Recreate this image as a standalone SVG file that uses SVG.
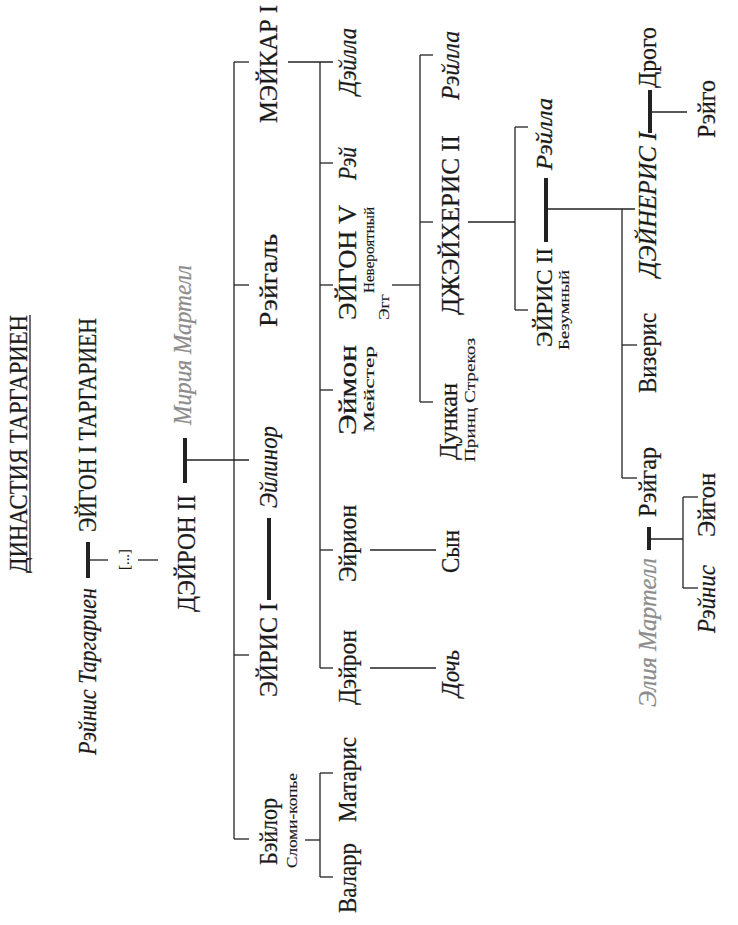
<svg xmlns="http://www.w3.org/2000/svg" width="738" height="925" viewBox="0 0 738 925">
<style>
text{font-family:"Liberation Serif","Times New Roman",serif;fill:#1a1a1a;stroke:#1a1a1a;stroke-width:0.25}
.n{font-size:25px}
.m{font-size:23px}
.s{font-size:15px;stroke-width:0.15}
.i{font-style:italic}
.g{fill:#8c8c8c;stroke:#8c8c8c}
.ln{stroke:#222;stroke-width:1.3;fill:none}
.bar{stroke:#222;stroke-width:4;fill:none}
</style>
<rect width="738" height="925" fill="#fff"/>
<g id="connectors">
<line class="bar" x1="88" y1="542" x2="88" y2="578"/>
<line class="ln" x1="88" y1="560" x2="108" y2="560"/>
<line class="ln" x1="138" y1="560" x2="158" y2="560"/>
<line class="bar" x1="185" y1="438" x2="185" y2="483"/>
<line class="ln" x1="185" y1="460" x2="249" y2="460"/>
<line class="ln" x1="234" y1="62" x2="234" y2="839"/>
<line class="ln" x1="234" y1="62" x2="249" y2="62"/>
<line class="ln" x1="234" y1="285" x2="249" y2="285"/>
<line class="ln" x1="234" y1="655" x2="249" y2="655"/>
<line class="ln" x1="234" y1="839" x2="249" y2="839"/>
<line class="bar" x1="269" y1="518" x2="269" y2="600"/>
<line class="ln" x1="288" y1="62" x2="333" y2="62"/>
<line class="ln" x1="320" y1="62" x2="320" y2="668"/>
<line class="ln" x1="320" y1="163" x2="333" y2="163"/>
<line class="ln" x1="320" y1="285" x2="333" y2="285"/>
<line class="ln" x1="320" y1="390" x2="333" y2="390"/>
<line class="ln" x1="320" y1="550" x2="333" y2="550"/>
<line class="ln" x1="320" y1="668" x2="333" y2="668"/>
<line class="ln" x1="305" y1="840" x2="320" y2="840"/>
<line class="ln" x1="320" y1="773" x2="320" y2="877"/>
<line class="ln" x1="320" y1="773" x2="333" y2="773"/>
<line class="ln" x1="320" y1="877" x2="333" y2="877"/>
<line class="ln" x1="370" y1="550" x2="436" y2="550"/>
<line class="ln" x1="370" y1="668" x2="436" y2="668"/>
<line class="ln" x1="392" y1="285" x2="420" y2="285"/>
<line class="ln" x1="420" y1="55" x2="420" y2="402"/>
<line class="ln" x1="420" y1="55" x2="433" y2="55"/>
<line class="ln" x1="420" y1="222" x2="433" y2="222"/>
<line class="ln" x1="420" y1="402" x2="433" y2="402"/>
<line class="ln" x1="468" y1="222" x2="515" y2="222"/>
<line class="ln" x1="515" y1="127" x2="515" y2="310"/>
<line class="ln" x1="515" y1="127" x2="528" y2="127"/>
<line class="ln" x1="515" y1="310" x2="528" y2="310"/>
<line class="bar" x1="546" y1="178" x2="546" y2="242"/>
<line class="ln" x1="546" y1="209" x2="635" y2="209"/>
<line class="ln" x1="622" y1="209" x2="622" y2="478"/>
<line class="ln" x1="622" y1="345" x2="637" y2="345"/>
<line class="ln" x1="622" y1="478" x2="637" y2="478"/>
<line class="bar" x1="650" y1="90" x2="650" y2="133"/>
<line class="ln" x1="650" y1="112" x2="687" y2="112"/>
<line class="bar" x1="649" y1="527" x2="649" y2="550"/>
<line class="ln" x1="649" y1="539" x2="683" y2="539"/>
<line class="ln" x1="683" y1="497" x2="683" y2="588"/>
<line class="ln" x1="683" y1="497" x2="698" y2="497"/>
<line class="ln" x1="683" y1="588" x2="698" y2="588"/>
</g>
<g id="title">
<text class="n" transform="translate(27,573) rotate(-90)" textLength="258" lengthAdjust="spacingAndGlyphs">ДИНАСТИЯ ТАРГАРИЕН</text>
<line class="ln" x1="30" y1="315" x2="30" y2="573"/>
</g>
<g id="aegon1"><text class="n" transform="translate(96,532) rotate(-90)" textLength="214" lengthAdjust="spacingAndGlyphs">ЭЙГОН I ТАРГАРИЕН</text></g>
<g id="rhaenys-t"><text class="n i" transform="translate(96,755) rotate(-90)" textLength="167" lengthAdjust="spacingAndGlyphs">Рэйнис Таргариен</text></g>
<g id="ellipsis"><text class="s" transform="translate(129,570) rotate(-90)" textLength="21" lengthAdjust="spacingAndGlyphs">[...]</text></g>
<g id="daeron2"><text class="n" transform="translate(195,612) rotate(-90)" textLength="117" lengthAdjust="spacingAndGlyphs">ДЭЙРОН II</text></g>
<g id="myriah"><text class="n i g" transform="translate(191,425) rotate(-90)" textLength="160" lengthAdjust="spacingAndGlyphs">Мирия Мартелл</text></g>
<g id="maekar1"><text class="n" transform="translate(277,123) rotate(-90)" textLength="118" lengthAdjust="spacingAndGlyphs">МЭЙКАР I</text></g>
<g id="rhaegel"><text class="n" transform="translate(277,327) rotate(-90)" textLength="93" lengthAdjust="spacingAndGlyphs">Рэйгаль</text></g>
<g id="aelinor"><text class="n i" transform="translate(277,508) rotate(-90)" textLength="82" lengthAdjust="spacingAndGlyphs">Эйлинор</text></g>
<g id="aerys1"><text class="n" transform="translate(277,697) rotate(-90)" textLength="94" lengthAdjust="spacingAndGlyphs">ЭЙРИС I</text></g>
<g id="baelor">
<text class="n" transform="translate(277,865) rotate(-90)" textLength="67" lengthAdjust="spacingAndGlyphs">Бэйлор</text>
<text class="s" transform="translate(297,868) rotate(-90)" textLength="95" lengthAdjust="spacingAndGlyphs">Сломи-копье</text>
</g>
<g id="matarys"><text class="n" transform="translate(356,822) rotate(-90)" textLength="85" lengthAdjust="spacingAndGlyphs">Матарис</text></g>
<g id="valarr"><text class="n" transform="translate(356,913) rotate(-90)" textLength="70" lengthAdjust="spacingAndGlyphs">Валарр</text></g>
<g id="daella"><text class="n i" transform="translate(356,95) rotate(-90)" textLength="67" lengthAdjust="spacingAndGlyphs">Дэйлла</text></g>
<g id="rhae"><text class="n i" transform="translate(356,180) rotate(-90)" textLength="33" lengthAdjust="spacingAndGlyphs">Рэй</text></g>
<g id="aegon5">
<text class="n" transform="translate(356,320) rotate(-90)" textLength="115" lengthAdjust="spacingAndGlyphs">ЭЙГОН V</text>
<text class="s" transform="translate(374,293) rotate(-90)" textLength="86" lengthAdjust="spacingAndGlyphs">Невероятный</text>
<text class="s" transform="translate(389,320) rotate(-90)" textLength="26" lengthAdjust="spacingAndGlyphs">Эгг</text>
</g>
<g id="aemon">
<text class="n" transform="translate(356,435) rotate(-90)" textLength="90" lengthAdjust="spacingAndGlyphs">Эймон</text>
<text class="s" transform="translate(374,432) rotate(-90)" textLength="86" lengthAdjust="spacingAndGlyphs">Мейстер</text>
</g>
<g id="aerion"><text class="n" transform="translate(356,582) rotate(-90)" textLength="77" lengthAdjust="spacingAndGlyphs">Эйрион</text></g>
<g id="daeron"><text class="n" transform="translate(356,705) rotate(-90)" textLength="75" lengthAdjust="spacingAndGlyphs">Дэйрон</text></g>
<g id="son"><text class="n" transform="translate(459,573) rotate(-90)" textLength="43" lengthAdjust="spacingAndGlyphs">Сын</text></g>
<g id="daughter"><text class="n i" transform="translate(459,697) rotate(-90)" textLength="47" lengthAdjust="spacingAndGlyphs">Дочь</text></g>
<g id="rhaella1"><text class="n i" transform="translate(459,100) rotate(-90)" textLength="69" lengthAdjust="spacingAndGlyphs">Рэйлла</text></g>
<g id="jaehaerys2"><text class="n" transform="translate(459,315) rotate(-90)" textLength="180" lengthAdjust="spacingAndGlyphs">ДЖЭЙХЕРИС II</text></g>
<g id="duncan">
<text class="n" transform="translate(457,460) rotate(-90)" textLength="77" lengthAdjust="spacingAndGlyphs">Дункан</text>
<text class="s" transform="translate(475,462) rotate(-90)" textLength="124" lengthAdjust="spacingAndGlyphs">Принц Стрекоз</text>
</g>
<g id="rhaella2"><text class="m i" transform="translate(552,170) rotate(-90)" textLength="72" lengthAdjust="spacingAndGlyphs">Рэйлла</text></g>
<g id="aerys2">
<text class="m" transform="translate(552,347) rotate(-90)" textLength="99" lengthAdjust="spacingAndGlyphs">ЭЙРИС II</text>
<text class="s" transform="translate(569,350) rotate(-90)" textLength="80" lengthAdjust="spacingAndGlyphs">Безумный</text>
</g>
<g id="daenerys1"><text class="n i" transform="translate(656,277) rotate(-90)" textLength="145" lengthAdjust="spacingAndGlyphs">ДЭЙНЕРИС I</text></g>
<g id="drogo"><text class="n" transform="translate(656,88) rotate(-90)" textLength="61" lengthAdjust="spacingAndGlyphs">Дрого</text></g>
<g id="rhaego"><text class="n" transform="translate(715,138) rotate(-90)" textLength="58" lengthAdjust="spacingAndGlyphs">Рэйго</text></g>
<g id="viserys"><text class="n" transform="translate(656,393) rotate(-90)" textLength="80" lengthAdjust="spacingAndGlyphs">Визерис</text></g>
<g id="rhaegar"><text class="n" transform="translate(656,517) rotate(-90)" textLength="70" lengthAdjust="spacingAndGlyphs">Рэйгар</text></g>
<g id="elia"><text class="n i g" transform="translate(656,707) rotate(-90)" textLength="149" lengthAdjust="spacingAndGlyphs">Элия Мартелл</text></g>
<g id="aegon"><text class="n" transform="translate(715,537) rotate(-90)" textLength="64" lengthAdjust="spacingAndGlyphs">Эйгон</text></g>
<g id="rhaenys"><text class="n i" transform="translate(715,633) rotate(-90)" textLength="68" lengthAdjust="spacingAndGlyphs">Рэйнис</text></g>
</svg>
